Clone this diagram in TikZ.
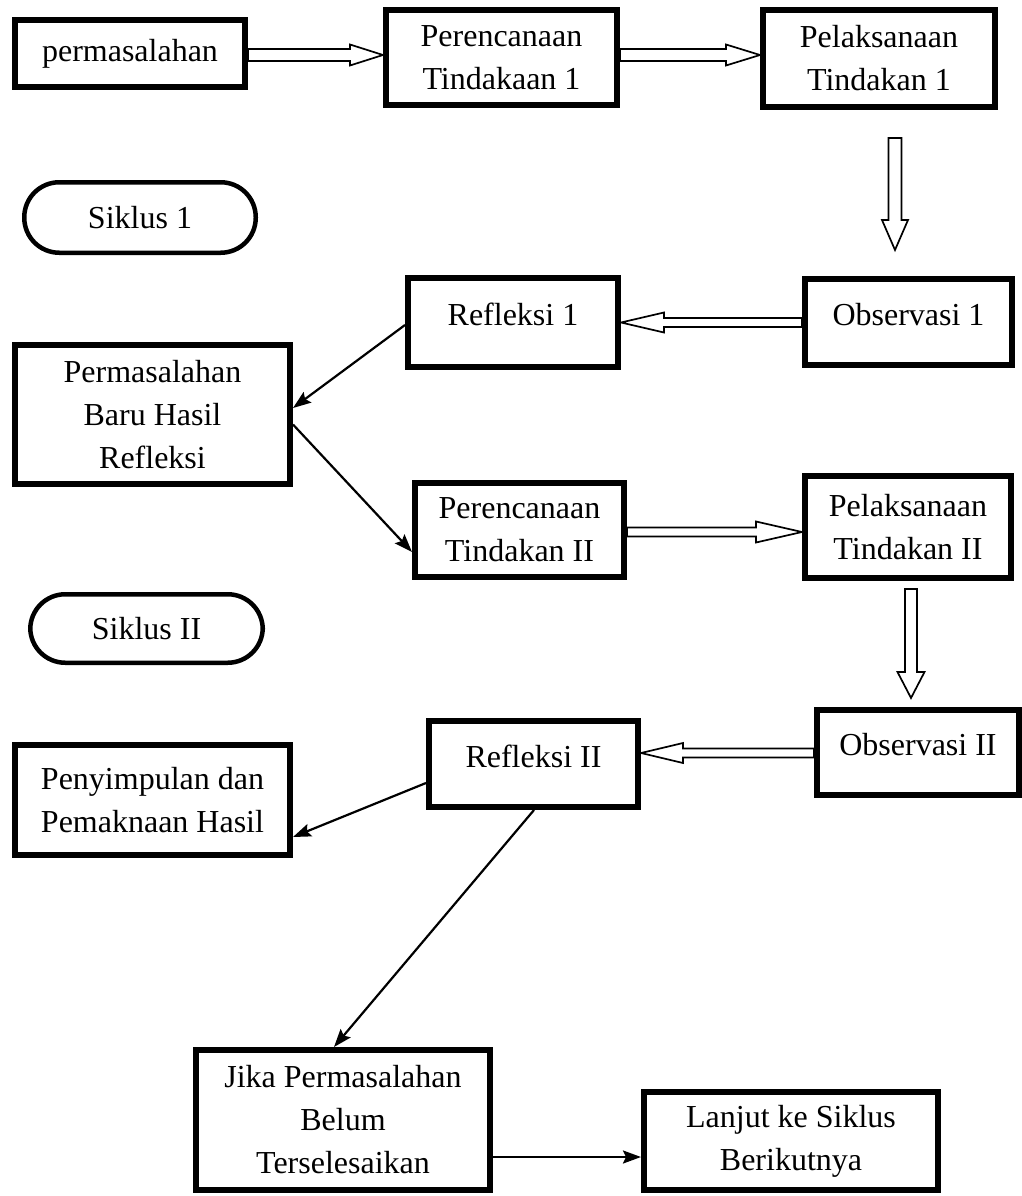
\documentclass[tikz,border=0pt]{standalone}
\usepackage{fontspec}
\setmainfont{Liberation Serif}
\usetikzlibrary{calc,arrows.meta}
\tikzset{
  box/.style={draw, line width=6pt, align=center, inner sep=2pt, font=\fontsize{32}{43}\selectfont},
  pill/.style={box, line width=4.5pt, rounded corners=35pt},
  upper/.style={text depth=16pt},
  conn/.style={line width=2.2pt, -{Stealth[length=18pt,width=13pt,inset=3pt]}},
  hollowline/.style={draw, line width=1.7pt, fill=white, line join=miter},
}
% hollow block arrow: start, end, shaft half width, head half width, head length
\newcommand\harrow[5]{%
  \coordinate (hb) at ($(#2)!#5!(#1)$);
  \path[hollowline] ($(#1)!#3!90:(#2)$) -- ($(hb)!#3!90:(#2)$) -- ($(hb)!#4!90:(#2)$) -- (#2)
    -- ($(hb)!#4!-90:(#2)$) -- ($(hb)!#3!-90:(#2)$) -- ($(#1)!#3!-90:(#2)$) -- cycle;
}
\begin{document}
\begin{tikzpicture}[x=1pt,y=-1pt]
\path[use as bounding box, fill=white] (0,0) rectangle (1022,1196);

% row 1
\node[box, minimum width=230pt, minimum height=67pt] (n1) at (130,53.5) {permasalahan};
\node[box, minimum width=231pt, minimum height=95pt] (n2) at (501.5,57.5) {Perencanaan\\Tindakaan 1};
\node[box, minimum width=232pt, minimum height=97pt] (n3) at (879,58.5) {Pelaksanaan\\Tindakan 1};

\node[pill, minimum width=231.5pt, minimum height=70.5pt] (s1) at (140,217.5) {Siklus 1};

% cycle 1 reflection
\node[box, upper, minimum width=210pt, minimum height=89pt] (r1) at (513,322.5) {Refleksi 1};
\node[box, upper, minimum width=207pt, minimum height=86pt] (o1) at (908.5,322) {Observasi 1};
\node[box, minimum width=275pt, minimum height=139pt] (pb) at (152.5,414.5) {Permasalahan\\Baru Hasil\\Refleksi};

% cycle 2
\node[box, minimum width=209pt, minimum height=94pt] (p2) at (519.5,530) {Perencanaan\\Tindakan II};
\node[box, minimum width=206pt, minimum height=102pt] (l2) at (908,527) {Pelaksanaan\\Tindakan II};
\node[pill, minimum width=232.5pt, minimum height=68.5pt] (s2) at (146.5,628.5) {Siklus II};

\node[box, upper, minimum width=202pt, minimum height=85pt] (o2) at (918,752.5) {Observasi II};
\node[box, upper, minimum width=209pt, minimum height=86pt] (r2) at (533.5,764) {Refleksi II};
\node[box, minimum width=275pt, minimum height=110pt] (pe) at (152.5,800) {Penyimpulan dan\\Pemaknaan Hasil};

\node[box, minimum width=294pt, minimum height=140pt] (jk) at (343,1120) {Jika Permasalahan\\Belum\\Terselesaikan};
\node[box, minimum width=294pt, minimum height=98pt] (lj) at (791,1141) {Lanjut ke Siklus\\Berikutnya};

% hollow arrows
\coordinate (h1s) at ([yshift=-1.5pt]n1.east);
\coordinate (h1e) at (n2.west |- h1s);
\harrow{h1s}{h1e}{6pt}{10.5pt}{33pt}
\coordinate (h2s) at (n2.east |- h1s);
\coordinate (h2e) at (n3.west |- h1s);
\harrow{h2s}{h2e}{6pt}{10.5pt}{34pt}
\coordinate (v1s) at (895,138);
\coordinate (v1e) at (895,250);
\harrow{v1s}{v1e}{6.5pt}{13pt}{30pt}
\coordinate (h3s) at ([yshift=-0.5pt]o1.west);
\coordinate (h3e) at (r1.east |- h3s);
\harrow{h3s}{h3e}{4.5pt}{10pt}{43pt}
\coordinate (h4s) at ([yshift=-2pt]p2.east);
\coordinate (h4e) at (l2.west |- h4s);
\harrow{h4s}{h4e}{4.5pt}{10.5pt}{46pt}
\coordinate (v2s) at (911,589);
\coordinate (v2e) at (911,698);
\harrow{v2s}{v2e}{6pt}{13.5pt}{26pt}
\coordinate (h5s) at ([yshift=-0.5pt]o2.west);
\coordinate (h5e) at (r2.east |- h5s);
\harrow{h5s}{h5e}{4.5pt}{10pt}{42pt}

% thin connectors
\draw[conn] ([yshift=-2.5pt]r1.west) -- ([yshift=6.5pt]pb.east);
\draw[conn] ([yshift=-10pt]pb.east) -- ([yshift=-22pt]p2.west);
\draw[conn] ([yshift=-19pt]r2.west) -- ([yshift=-37pt]pe.east);
\draw[conn] ([xshift=0.5pt]r2.south) -- ([xshift=-9pt]jk.north);
\coordinate (jks) at ([yshift=-37pt]jk.east);
\draw[conn] (jks) -- (lj.west |- jks);
\end{tikzpicture}
\end{document}
